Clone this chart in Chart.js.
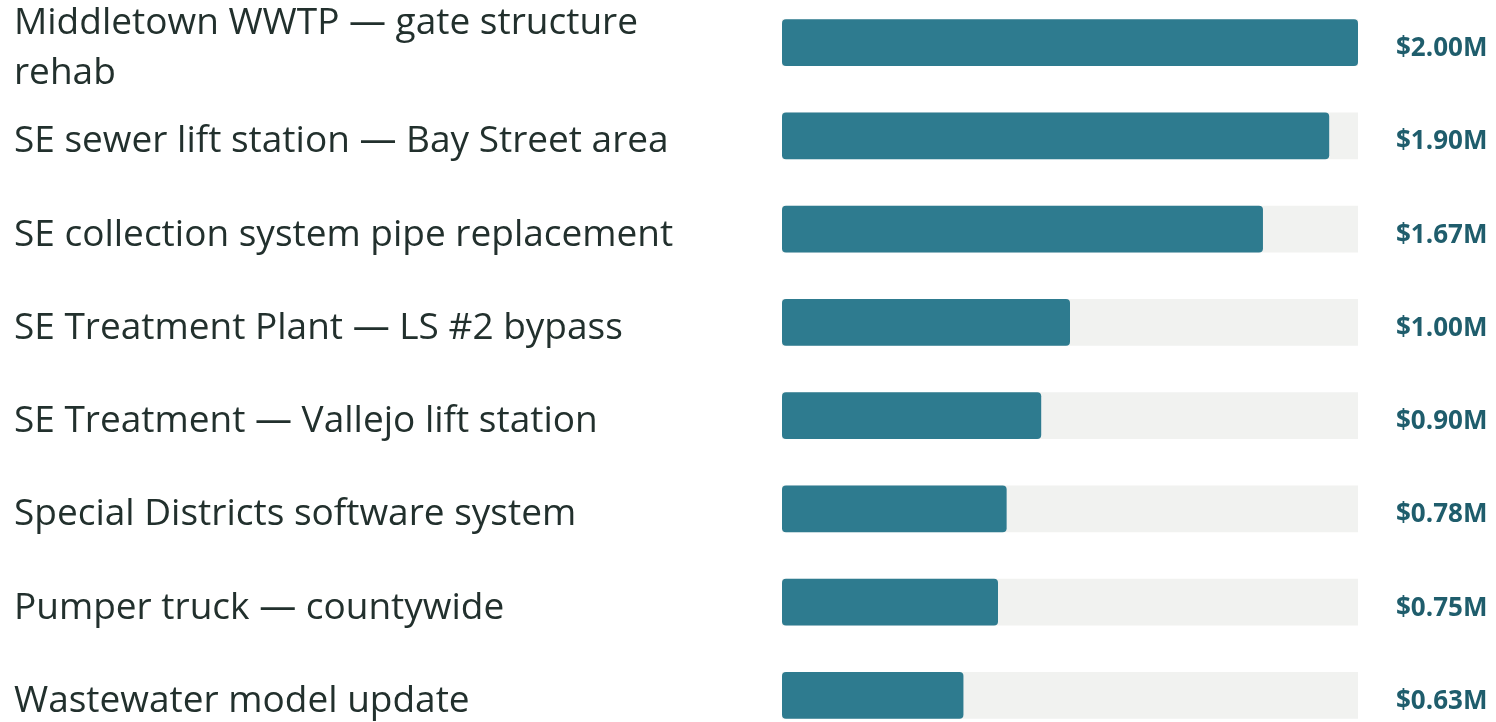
<!DOCTYPE html>
<html>
<head>
<meta charset="utf-8">
<script src="https://cdn.jsdelivr.net/npm/chart.js@4.4.1/dist/chart.umd.min.js"></script>
<style>
  html, body { margin: 0; padding: 0; background: #fff; overflow: hidden; }
  .wrap { position: absolute; left: 0; top: -4px; width: 1496px; height: 746px; }
</style>
</head>
<body>
<div class="wrap"><canvas id="chart"></canvas></div>
<script>
const projects = [
  ['Middletown WWTP \u2014 gate structure', 'rehab'],
  'SE sewer lift station \u2014 Bay Street area',
  'SE collection system pipe replacement',
  'SE Treatment Plant \u2014 LS #2 bypass',
  'SE Treatment \u2014 Vallejo lift station',
  'Special Districts software system',
  'Pumper truck \u2014 countywide',
  'Wastewater model update'
];
const costs = [2.00, 1.90, 1.67, 1.00, 0.90, 0.78, 0.75, 0.63]; // $M
const trackMax = 2.00;
const track = projects.map(() => trackMax);

// draw the $ value to the right of each track
const valueLabels = {
  id: 'valueLabels',
  afterDatasetsDraw(chart) {
    const ctx = chart.ctx;
    const x = chart.scales.x.getPixelForValue(trackMax) + 38;
    const meta = chart.getDatasetMeta(0);
    ctx.save();
    ctx.font = 'bold 26px "Open Sans"';
    ctx.fillStyle = '#1f5d6c';
    ctx.textAlign = 'left';
    ctx.textBaseline = 'middle';
    meta.data.forEach((bar, i) => {
      ctx.fillText('$' + costs[i].toFixed(2) + 'M', x, bar.y + 6);
    });
    ctx.restore();
  }
};

new Chart(document.getElementById('chart'), {
  type: 'bar',
  data: {
    labels: projects,
    datasets: [
      {
        data: costs,
        backgroundColor: '#2e7b8f',
        borderRadius: 4,
        borderSkipped: false,
        barPercentage: 0.5,
        categoryPercentage: 1,
        grouped: false,
        order: 0
      },
      {
        data: track,
        backgroundColor: '#f1f2f0',
        barPercentage: 0.5,
        categoryPercentage: 1,
        grouped: false,
        order: 1
      }
    ]
  },
  plugins: [valueLabels],
  options: {
    indexAxis: 'y',
    responsive: true,
    maintainAspectRatio: false,
    animation: false,
    layout: { padding: { left: 14, right: 138, top: 0, bottom: 0 } },
    plugins: {
      legend: { display: false },
      tooltip: { enabled: false }
    },
    scales: {
      x: { display: false, min: 0, max: trackMax },
      y: {
        grid: { display: false },
        border: { display: false },
        ticks: {
          autoSkip: false,
          crossAlign: 'far',
          labelOffset: 6,
          color: '#22302d',
          font: { family: 'Open Sans', size: 37, lineHeight: 1.35 },
          padding: 0
        },
        afterFit(scale) {
          scale.width = 768;
          scale.paddingTop = 0;
          scale.paddingBottom = 0;
        }
      }
    }
  }
});
</script>
</body>
</html>
